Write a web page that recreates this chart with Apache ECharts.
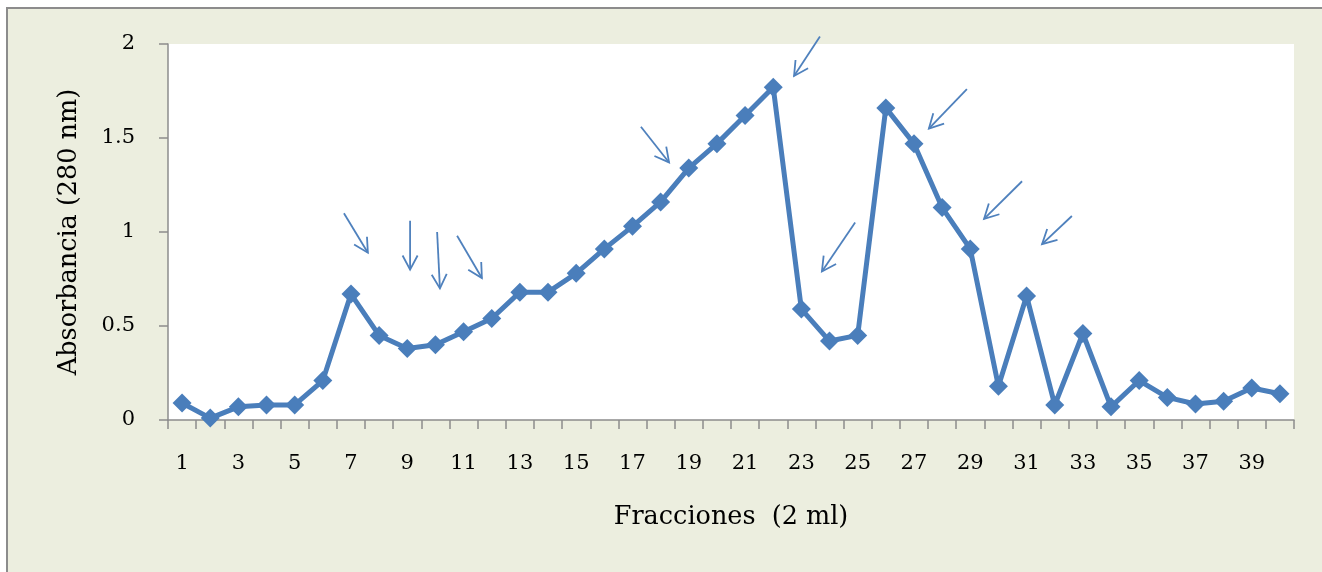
<!DOCTYPE html>
<html><head><meta charset="utf-8">
<script src="https://cdn.jsdelivr.net/npm/echarts@6/dist/echarts.min.js"></script>
<style>html,body{margin:0;padding:0;background:#fff}#c{width:1322px;height:572px}</style>
</head><body><div id="c"></div>
<script>
const categories = ['1','2','3','4','5','6','7','8','9','10','11','12','13','14','15','16','17','18','19','20',
  '21','22','23','24','25','26','27','28','29','30','31','32','33','34','35','36','37','38','39','40'];
const absorbance = [0.09, 0.01, 0.07, 0.08, 0.08, 0.21, 0.67, 0.45, 0.38, 0.40,
  0.47, 0.54, 0.68, 0.68, 0.78, 0.91, 1.03, 1.16, 1.34, 1.47,
  1.62, 1.77, 0.59, 0.42, 0.45, 1.66, 1.47, 1.13, 0.91, 0.18,
  0.66, 0.08, 0.46, 0.07, 0.21, 0.12, 0.085, 0.10, 0.17, 0.14];
const yMin = 0, yMax = 2, yStep = 0.5;
// hand-drawn arrows (data coordinates: fraction position, absorbance)
const arrowTails = [[6.75,1.10],[9.10,1.06],[10.06,1.00],[10.77,0.98],[17.30,1.56],
  [23.66,2.04],[24.91,1.05],[28.88,1.76],[30.84,1.27],[32.61,1.085]];
const arrowHeads = [[7.60,0.89],[9.10,0.80],[10.16,0.70],[11.65,0.755],[18.30,1.37],
  [22.74,1.83],[23.73,0.79],[27.53,1.55],[29.49,1.07],[31.55,0.935]];

const FONT = 'DejaVu Serif';
const blue = '#4A7EBB';
const chart = echarts.init(document.getElementById('c'), null, {renderer:'canvas'});
const frame = {id:'frame', type:'rect', z:-5, silent:true,
  shape:{x:7, y:8, width:1340, height:600},
  style:{fill:'#ECEEDF', stroke:'#8C8C8C', lineWidth:2}};
const option = {
  backgroundColor:'#ffffff',
  animation:false,
  graphic:{elements:[frame]},
  grid:{left:168, right:28, top:44, bottom:152, show:true, backgroundColor:'#ffffff', borderWidth:0},
  xAxis:[{
    type:'category', data:categories, boundaryGap:true,
    name:'Fracciones  (2 ml)', nameLocation:'middle', nameGap:84,
    nameTextStyle:{fontFamily:FONT, fontSize:25.5, color:'#000'},
    axisLine:{lineStyle:{color:'#8C8C8C', width:1.5}},
    axisTick:{show:true, interval:0, length:9, lineStyle:{color:'#8C8C8C', width:1.5}},
    axisLabel:{interval:1, margin:33, fontFamily:FONT, fontSize:21, color:'#000'},
    splitLine:{show:false}
  },{
    type:'value', min:0.5, max:40.5, show:false
  }],
  yAxis:{
    type:'value', min:yMin, max:yMax, interval:yStep,
    name:'Absorbancia (280 nm)', nameLocation:'middle', nameGap:86,
    nameTextStyle:{fontFamily:FONT, fontSize:25.5, color:'#000'},
    axisLine:{show:true, lineStyle:{color:'#8C8C8C', width:1.5}},
    axisTick:{show:true, length:9, lineStyle:{color:'#8C8C8C', width:1.5}},
    axisLabel:{margin:33, fontFamily:FONT, fontSize:21, color:'#000'},
    splitLine:{show:false}
  },
  series:[{
    type:'line', data:absorbance, xAxisIndex:0, yAxisIndex:0,
    symbol:'diamond', symbolSize:19, showAllSymbol:true,
    lineStyle:{color:blue, width:5},
    itemStyle:{color:blue}
  }]
};
chart.setOption(option);

const arrowEls = [];
const L = 16, th = 28*Math.PI/180;
for (let i=0;i<arrowTails.length;i++){
  const tx = chart.convertToPixel({xAxisIndex:1}, arrowTails[i][0]);
  const ty = chart.convertToPixel({yAxisIndex:0}, arrowTails[i][1]);
  const hx = chart.convertToPixel({xAxisIndex:1}, arrowHeads[i][0]);
  const hy = chart.convertToPixel({yAxisIndex:0}, arrowHeads[i][1]);
  let dx = hx-tx, dy = hy-ty; const n = Math.hypot(dx,dy); dx/=n; dy/=n;
  const w1 = [hx - L*(dx*Math.cos(th) - dy*Math.sin(th)), hy - L*(dx*Math.sin(th) + dy*Math.cos(th))];
  const w2 = [hx - L*(dx*Math.cos(-th) - dy*Math.sin(-th)), hy - L*(dx*Math.sin(-th) + dy*Math.cos(-th))];
  arrowEls.push({type:'polyline', z:10, silent:true, shape:{points:[[tx,ty],[hx,hy]]},
    style:{stroke:'#4F81BD', lineWidth:1.8, fill:null}});
  arrowEls.push({type:'polyline', z:10, silent:true, shape:{points:[w1,[hx,hy],w2]},
    style:{stroke:'#4F81BD', lineWidth:1.8, fill:null}});
}
chart.setOption({graphic:{elements:[frame].concat(arrowEls)}});
</script></body></html>
